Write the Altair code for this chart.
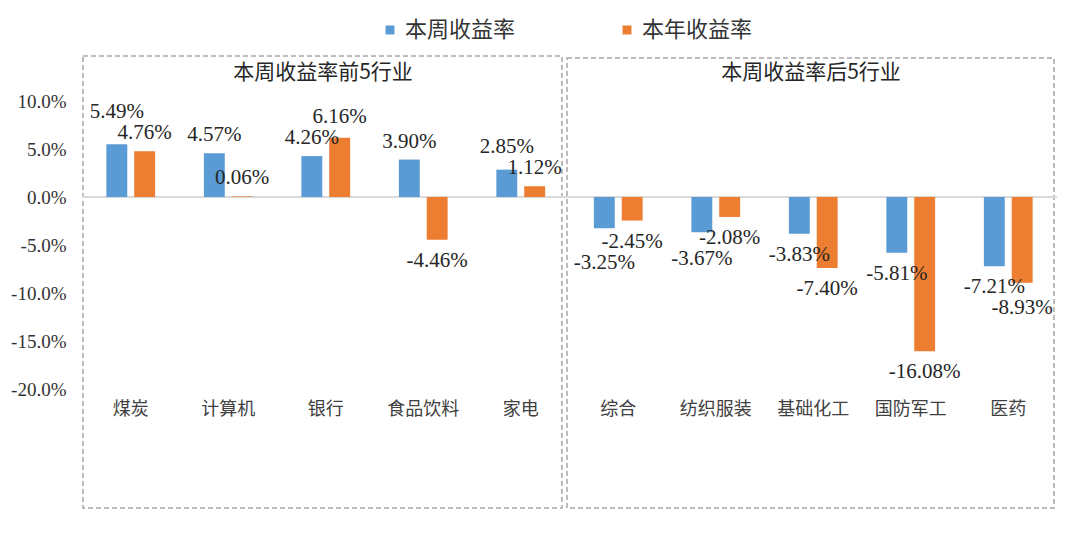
import altair as alt
import pandas as pd

categories = ["煤炭", "计算机", "银行", "食品饮料", "家电", "综合", "纺织服装", "基础化工", "国防军工", "医药"]
weekly = [5.49, 4.57, 4.26, 3.90, 2.85, -3.25, -3.67, -3.83, -5.81, -7.21]
annual = [4.76, 0.06, 6.16, -4.46, 1.12, -2.45, -2.08, -7.40, -16.08, -8.93]
series_names = ["本周收益率", "本年收益率"]
series_colors = ["#5B9BD5", "#ED7D31"]
y_ticks = [-20, -15, -10, -5, 0, 5, 10]
panel_titles = ["本周收益率前5行业", "本周收益率后5行业"]

W, H = 975, 288
Y_DOMAIN = [-20, 10]
PPU = H / (Y_DOMAIN[1] - Y_DOMAIN[0])  # pixels per percentage point
LABEL_GAP = 21  # minimum vertical pixel separation between a pair of labels

rows = []
for c, w, a in zip(categories, weekly, annual):
    # stagger the label of the longer bar when both labels would collide
    pos = {"w": w, "a": a}
    if (w >= 0) == (a >= 0):
        diff_px = abs(w - a) * PPU
        extra = max(0.0, LABEL_GAP - diff_px) / PPU
        sgn = 1 if w >= 0 else -1
        if abs(w) >= abs(a):
            pos["w"] = w + sgn * extra
        else:
            pos["a"] = a + sgn * extra
    rows.append({"category": c, "series": series_names[0], "value": w, "lpos": pos["w"]})
    rows.append({"category": c, "series": series_names[1], "value": a, "lpos": pos["a"]})
df = pd.DataFrame(rows)

CJK = "Noto Sans CJK SC"
SERIF = "Liberation Serif"

x_enc = alt.X(
    "category:N",
    sort=categories,
    scale=alt.Scale(paddingInner=0.5, paddingOuter=0.25),
    axis=alt.Axis(title=None, domain=False, ticks=False, labelAngle=0,
                  labelFont=CJK, labelFontSize=18, labelColor="#404040",
                  labelPadding=11),
)
y_scale = alt.Scale(domain=Y_DOMAIN, nice=False, zero=False)
y_enc = alt.Y(
    "value:Q",
    scale=y_scale,
    axis=alt.Axis(title=None, values=y_ticks, domain=False, ticks=False, grid=False,
                  labelExpr="(datum.value < 0 ? '-' : '') + format(abs(datum.value), '.1f') + '%'",
                  labelFont=SERIF, labelFontSize=19, labelColor="#333333", labelPadding=16),
)
ylab_enc = alt.Y("lpos:Q", scale=y_scale)
xoff_enc = alt.XOffset("series:N", sort=series_names,
                       scale=alt.Scale(paddingInner=0.25, paddingOuter=0))
color_enc = alt.Color(
    "series:N", sort=series_names,
    scale=alt.Scale(domain=series_names, range=series_colors),
    legend=alt.Legend(title=None, orient="none", legendX=297, legendY=-82,
                      direction="horizontal", symbolType="square", symbolSize=80,
                      symbolStrokeWidth=0, labelFont=CJK, labelFontSize=22,
                      labelColor="#333333", columnPadding=100, labelOffset=4, padding=0),
)

base = alt.Chart(df).transform_calculate(
    label="(datum.value < 0 ? '-' : '') + format(abs(datum.value), '.2f') + '%'"
)

bars = base.mark_bar().encode(x=x_enc, xOffset=xoff_enc, y=y_enc, color=color_enc)

lab_pos = base.transform_filter("datum.value >= 0").mark_text(
    baseline="bottom", dy=-8, font=SERIF, fontSize=21, color="#262626"
).encode(x=x_enc, xOffset=xoff_enc, y=ylab_enc, text="label:N")

lab_neg = base.transform_filter("datum.value < 0").mark_text(
    baseline="top", dy=10, font=SERIF, fontSize=21, color="#262626"
).encode(x=x_enc, xOffset=xoff_enc, y=ylab_enc, text="label:N")

zero = alt.Chart(pd.DataFrame({"zero": [0]})).mark_rule(
    color="#D9D9D9", strokeWidth=2
).encode(y="zero:Q")

box_style = dict(fillOpacity=0, fill="white", stroke="#A6A6A6", strokeDash=[5, 3], strokeWidth=1.5)
box_left = alt.Chart(pd.DataFrame({"t": [panel_titles[0]]})).mark_rect(**box_style).encode(
    x=alt.value(1), x2=alt.value(480), y=alt.value(-45), y2=alt.value(407))
box_right = alt.Chart(pd.DataFrame({"t": [panel_titles[1]]})).mark_rect(**box_style).encode(
    x=alt.value(485), x2=alt.value(972), y=alt.value(-43), y2=alt.value(407))

title_style = dict(font=CJK, fontSize=21, color="#262626", align="center", baseline="middle")
title_left = alt.Chart(pd.DataFrame({"t": [panel_titles[0]]})).mark_text(**title_style).encode(
    text="t:N", x=alt.value(241), y=alt.value(-28))
title_right = alt.Chart(pd.DataFrame({"t": [panel_titles[1]]})).mark_text(**title_style).encode(
    text="t:N", x=alt.value(729), y=alt.value(-28))

chart = alt.layer(
    box_left, box_right, title_left, title_right, zero, bars, lab_pos, lab_neg
).properties(
    width=W, height=H,
    autosize=alt.AutoSizeParams(type="none"),
    padding={"left": 74, "top": 93, "right": 8, "bottom": 140},
    background="white",
).configure_view(stroke=None)

chart.save("out.html", embed_options={"renderer": "svg", "actions": False})
